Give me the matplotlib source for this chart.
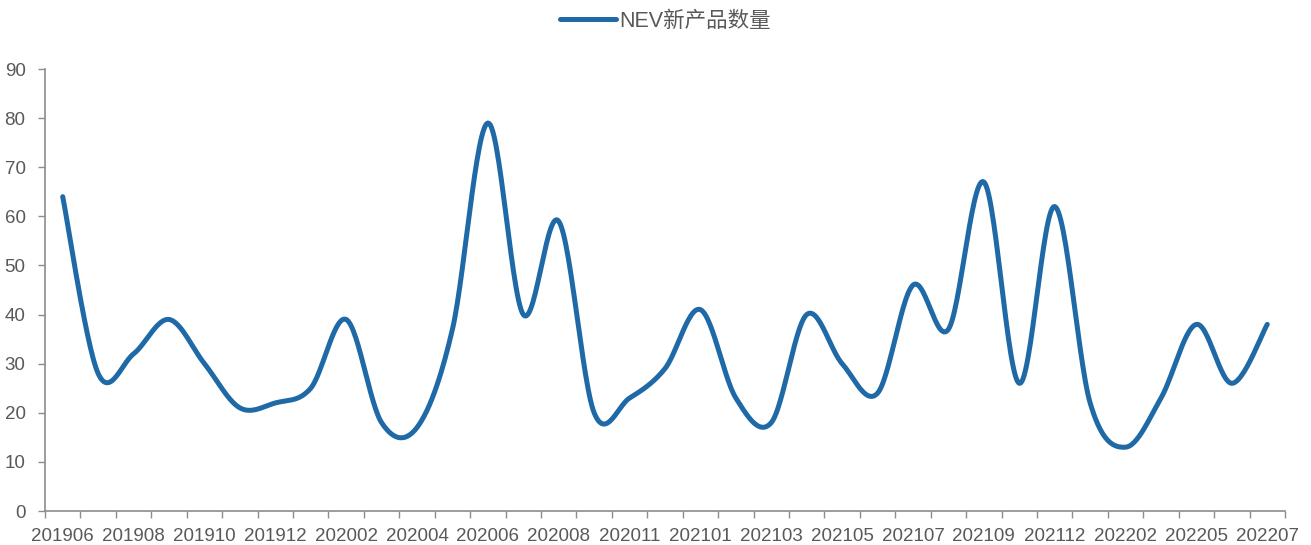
import numpy as np
import matplotlib
matplotlib.use('Agg')
import matplotlib.pyplot as plt

# monthly counts of new NEV products
months = ['201906', '201907', '201908', '201909', '201910', '201911', '201912',
          '202001', '202002', '202003', '202004', '202005', '202006', '202007',
          '202008', '202009', '202011', '202012', '202101', '202102', '202103',
          '202104', '202105', '202106', '202107', '202108', '202109', '202110',
          '202112', '202201', '202202', '202203', '202205', '202206', '202207']
counts = [64, 28, 32, 39, 30, 21, 22, 25, 39, 18, 17, 37, 79, 40, 59, 20, 23, 29,
          41, 23, 18, 40, 30, 24, 46, 37, 67, 26, 62, 22, 13, 23, 38, 26, 38]

line_color = '#1f6aa6'
grey = '#595959'
axis_grey = '#8c8c8c'


def smooth(x, y, n=30):
    # cubic bezier through the points, tangents from neighbours (like a smoothed office line)
    x = np.asarray(x, float)
    y = np.asarray(y, float)
    px = np.concatenate([[x[0]], x, [x[-1]]])
    py = np.concatenate([[y[0]], y, [y[-1]]])
    xs, ys = [], []
    t = np.linspace(0, 1, n)
    for i in range(1, len(px) - 2):
        p0 = np.array([px[i], py[i]])
        p3 = np.array([px[i + 1], py[i + 1]])
        p1 = p0 + (np.array([px[i + 1], py[i + 1]]) - np.array([px[i - 1], py[i - 1]])) / 6
        p2 = p3 - (np.array([px[i + 2], py[i + 2]]) - np.array([px[i], py[i]])) / 6
        b = ((1 - t) ** 3)[:, None] * p0 + (3 * (1 - t) ** 2 * t)[:, None] * p1 \
            + (3 * (1 - t) * t ** 2)[:, None] * p2 + (t ** 3)[:, None] * p3
        xs.append(b[:, 0])
        ys.append(b[:, 1])
    return np.concatenate(xs), np.concatenate(ys)


idx = np.arange(len(months))
sx, sy = smooth(idx, counts)

fig = plt.figure(figsize=(13.11, 5.45), dpi=100)
ax = fig.add_axes([45 / 1311, 1 - 511 / 545, 1240 / 1311, 442 / 545])

ax.plot(sx, sy, color=line_color, lw=3.6, solid_capstyle='round',
        label='NEV新产品数量')

ax.set_xlim(-0.5, len(months) - 0.5)
ax.set_ylim(0, 90)
ax.set_yticks(range(0, 91, 10))

ax.set_xticks(idx[::2])
ax.set_xticklabels(months[::2])
ax.set_xticks(np.arange(-0.5, len(months), 1), minor=True)
ax.tick_params(axis='x', which='major', length=0, pad=12, labelsize=13.5, labelcolor=grey)
ax.tick_params(axis='x', which='minor', length=5, width=1, color=axis_grey, direction='out')
ax.tick_params(axis='y', length=5, width=1, color=axis_grey, pad=9, labelsize=13.5, labelcolor=grey)

for s in ['top', 'right']:
    ax.spines[s].set_visible(False)
for s in ['left', 'bottom']:
    ax.spines[s].set_color(axis_grey)
    ax.spines[s].set_linewidth(1.2)

for lab in ax.get_xticklabels() + ax.get_yticklabels():
    lab.set_family(['Liberation Sans', 'Noto Sans CJK SC'])

leg = ax.legend(loc='upper center', bbox_to_anchor=(0.5, 1.175), frameon=False,
                handlelength=2.6, handletextpad=0.15,
                prop={'family': ['Liberation Sans', 'Noto Sans CJK SC'], 'size': 15.5})
for t in leg.get_texts():
    t.set_color(grey)

fig.savefig('out.png', dpi=100)
